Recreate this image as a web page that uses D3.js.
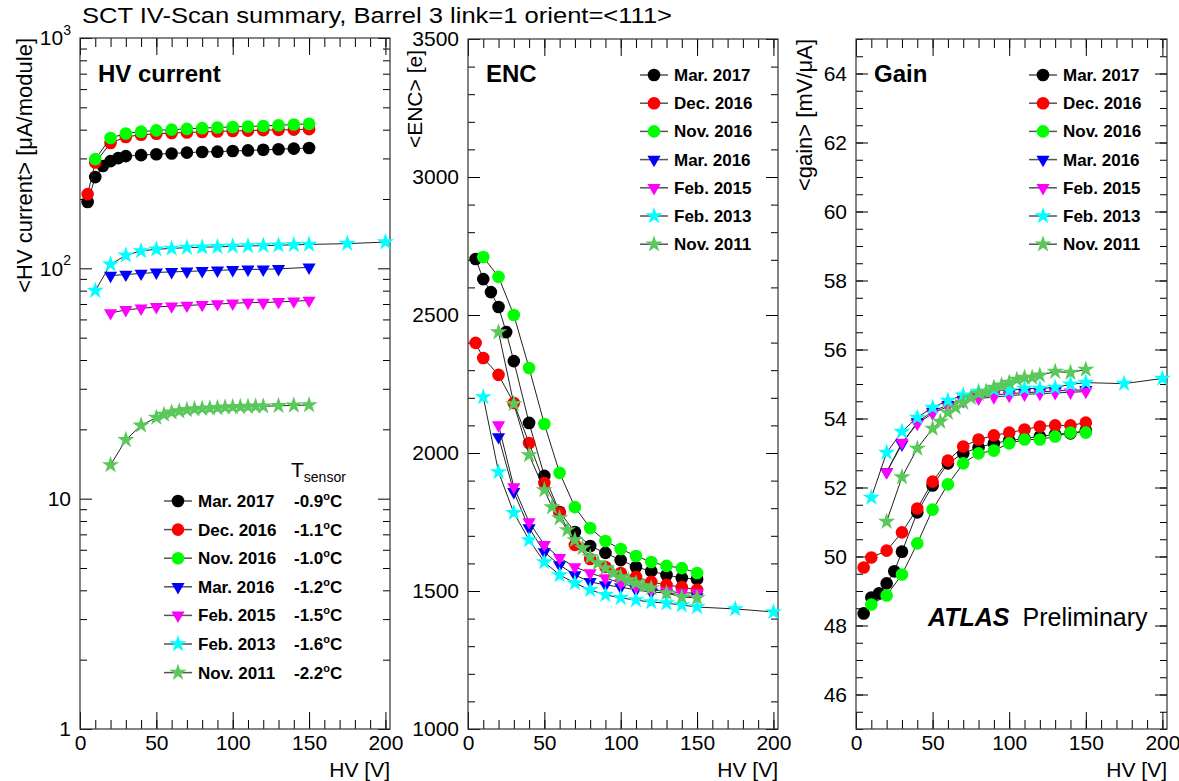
<!DOCTYPE html>
<html>
<head>
<meta charset="utf-8">
<script src="https://cdn.jsdelivr.net/npm/d3@7"></script>
<style>
  body { margin: 0; background: #fff; }
  svg { font-family: "Liberation Sans", Arial, Helvetica, sans-serif; }
  .axis path { display: none; }
  .axis line { stroke: #000; }
</style>
</head>
<body>
<svg id="chart" width="1179" height="781"></svg>
<script>
// ---- series info (legend order) ----
const seriesNames  = ["Mar. 2017", "Dec. 2016", "Nov. 2016", "Mar. 2016", "Feb. 2015", "Feb. 2013", "Nov. 2011"];
const sensorTemps  = ["-0.9", "-1.1", "-1.0", "-1.2", "-1.5", "-1.6", "-2.2"];
const seriesColors = ["#000000", "#ff0000", "#00ff00", "#0000ff", "#ff00ff", "#00ffff", "#5ac85a"];
const seriesShapes = ["circle", "circle", "circle", "triangle", "triangle", "star", "star"];

// ---- HV points [V] for each scan ----
const xMar2017 = [5, 10, 15, 20, 25, 30, 40, 50, 60, 70, 80, 90, 100, 110, 120, 130, 140, 150];
const xDec2016 = [5, 10, 20, 30, 40, 50, 60, 70, 80, 90, 100, 110, 120, 130, 140, 150];
const xNov2016 = [10, 20, 30, 40, 50, 60, 70, 80, 90, 100, 110, 120, 130, 140, 150];
const xMar2016 = [20, 30, 40, 50, 60, 70, 80, 90, 100, 110, 120, 130, 150];
const xFeb2015 = [20, 30, 40, 50, 60, 70, 80, 90, 100, 110, 120, 130, 140, 150];
const xFeb2013 = [10, 20, 30, 40, 50, 60, 70, 80, 90, 100, 110, 120, 130, 140, 150, 175, 200];
const xNov2011 = [20, 30, 40, 50, 55, 60, 65, 70, 75, 80, 85, 90, 95, 100, 105, 110, 115, 120, 130, 140, 150];

// ---- <HV current> [uA/module] ----
const hvMar2017 = [194, 249, 278, 292, 301, 307, 310, 313, 315, 318, 320, 321, 323, 325, 327, 329, 331, 333];
const hvDec2016 = [210, 288, 350, 372, 380, 384, 387, 389, 391, 393, 395, 396, 398, 399, 400, 402];
const hvNov2016 = [298, 368, 385, 392, 397, 400, 403, 406, 409, 411, 413, 415, 418, 421, 424];
const hvMar2016 = [93, 94, 95, 96, 96.5, 97, 97.5, 98, 98.5, 99, 99, 99.5, 101];
const hvFeb2015 = [64, 66, 67, 68, 68.5, 69, 69.5, 70, 70.5, 71, 71, 71.5, 72, 72.5];
const hvFeb2013 = [80, 104, 114, 119, 121, 122, 123, 123.5, 124, 124.5, 125, 125.5, 126, 126.5, 127, 128, 130];
const hvNov2011 = [14, 18, 20.8, 22.5, 23.2, 23.7, 24, 24.3, 24.5, 24.6, 24.7, 24.8, 24.9, 25, 25.05, 25.1, 25.2, 25.2, 25.3, 25.4, 25.5];

// ---- <ENC> [e] ----
const encMar2017 = [2703, 2630, 2583, 2529, 2438, 2333, 2109, 1917, 1786, 1714, 1663, 1638, 1612, 1587, 1572, 1558, 1547, 1543];
const encDec2016 = [2399, 2344, 2283, 2181, 2036, 1891, 1783, 1667, 1616, 1587, 1565, 1551, 1533, 1522, 1514, 1504];
const encNov2016 = [2710, 2638, 2500, 2308, 2105, 1928, 1804, 1728, 1681, 1652, 1627, 1605, 1591, 1583, 1565];
const encMar2016 = [2058, 1859, 1728, 1641, 1594, 1558, 1533, 1522, 1514, 1504, 1496, 1493, 1478];
const encFeb2015 = [2101, 1877, 1750, 1667, 1620, 1587, 1565, 1547, 1529, 1514, 1504, 1500, 1493, 1493];
const encFeb2013 = [2203, 1931, 1783, 1685, 1605, 1558, 1529, 1504, 1486, 1475, 1467, 1460, 1456, 1449, 1442, 1435, 1424];
const encNov2011 = [2438, 2178, 1993, 1866, 1804, 1764, 1721, 1685, 1656, 1623, 1601, 1583, 1565, 1551, 1540, 1529, 1518, 1511, 1493, 1478, 1475];

// ---- <gain> [mV/uA] ----
const gainMar2017 = [48.35, 48.81, 48.93, 49.22, 49.57, 50.14, 51.28, 52.06, 52.70, 52.99, 53.16, 53.28, 53.36, 53.42, 53.48, 53.54, 53.57, 53.65];
const gainDec2016 = [49.68, 49.97, 50.17, 50.70, 51.39, 52.17, 52.78, 53.19, 53.39, 53.51, 53.59, 53.68, 53.77, 53.80, 53.80, 53.88];
const gainNov2016 = [48.61, 48.87, 49.48, 50.38, 51.36, 52.09, 52.70, 52.99, 53.07, 53.28, 53.39, 53.39, 53.48, 53.59, 53.59];
const gainMar2016 = [52.45, 53.25, 53.9, 54.2, 54.4, 54.55, 54.62, 54.68, 54.72, 54.75, 54.77, 54.8, 54.83];
const gainFeb2015 = [52.45, 53.3, 53.85, 54.15, 54.35, 54.5, 54.58, 54.62, 54.66, 54.7, 54.72, 54.74, 54.76, 54.78];
const gainFeb2013 = [51.71, 53.01, 53.62, 54.03, 54.32, 54.52, 54.67, 54.78, 54.84, 54.8, 54.87, 54.87, 54.9, 54.99, 55.04, 55.01, 55.16];
const gainNov2011 = [51.01, 52.3, 53.13, 53.71, 53.91, 54.17, 54.32, 54.46, 54.6, 54.72, 54.78, 54.9, 54.96, 55.04, 55.13, 55.19, 55.19, 55.25, 55.36, 55.33, 55.42];

const xValues = [xMar2017, xDec2016, xNov2016, xMar2016, xFeb2015, xFeb2013, xNov2011];

// ---- axis ticks ----
const xMajor = [0, 50, 100, 150, 200];
const xMinor = d3.range(0, 201, 10);
const hvMajor = [1, 10, 100, 1000];
const hvMinor = [1, 10, 100].flatMap(d => d3.range(2, 10).map(k => k * d));
const encMajor = d3.range(1000, 3501, 500);
const encMinor = d3.range(1000, 3501, 100);
const gainMajor = d3.range(46, 65, 2);
const gainMinor = d3.range(45, 65.01, 0.5);

const svg = d3.select("#chart");
const FONT = "'Liberation Sans', Arial, Helvetica, sans-serif";

svg.append("text")
    .attr("x", 82).attr("y", 23)
    .attr("font-size", 22)
    .attr("textLength", 590).attr("lengthAdjust", "spacingAndGlyphs")
    .text("SCT IV-Scan summary, Barrel 3 link=1 orient=<111>");

const panels = [
    {
        left: 80, right: 390, top: 38, bottom: 729,
        log: true, yDomain: [1, 1000], yMajor: hvMajor, yMinor: hvMinor,
        title: "HV current", ylabel: "<HV current> [μA/module]", ylabelX: 32, ylabelTop: 38, ylabelSize: 22,
        values: [hvMar2017, hvDec2016, hvNov2016, hvMar2016, hvFeb2015, hvFeb2013, hvNov2011]
    },
    {
        left: 468, right: 778, top: 39, bottom: 729,
        log: false, yDomain: [1000, 3500], yMajor: encMajor, yMinor: encMinor,
        title: "ENC", ylabel: "<ENC> [e]", ylabelX: 422, ylabelTop: 50, ylabelSize: 21,
        values: [encMar2017, encDec2016, encNov2016, encMar2016, encFeb2015, encFeb2013, encNov2011]
    },
    {
        left: 856, right: 1167, top: 39, bottom: 729,
        log: false, yDomain: [45, 65], yMajor: gainMajor, yMinor: gainMinor,
        title: "Gain", ylabel: "<gain> [mV/μA]", ylabelX: 812, ylabelTop: 39, ylabelSize: 22,
        values: [gainMar2017, gainDec2016, gainNov2016, gainMar2016, gainFeb2015, gainFeb2013, gainNov2011]
    }
];

function symbolFor(shape) {
    if (shape === "circle") return d3.symbol().type(d3.symbolCircle).size(125)();
    if (shape === "triangle") return d3.symbol().type(d3.symbolTriangle).size(75)();
    return d3.symbol().type(d3.symbolStar).size(92)();
}
function markerTransform(shape, px, py) {
    return shape === "triangle" ? `translate(${px},${py}) rotate(180)` : `translate(${px},${py})`;
}

function styleAxis(sel) {
    sel.attr("font-family", FONT).attr("font-size", 21);
    sel.selectAll("text").attr("fill", "#000");
}

function drawPanel(p) {
    const g = svg.append("g");
    const x = d3.scaleLinear().domain([0, 203]).range([p.left, p.right]);
    const y = (p.log ? d3.scaleLog() : d3.scaleLinear()).domain(p.yDomain).range([p.bottom, p.top]);

    // ticks, ROOT style (inside the frame, on all four sides)
    g.append("g").attr("class", "axis").attr("transform", `translate(0,${p.bottom})`)
        .call(d3.axisBottom(x).tickValues(xMinor).tickSize(-9).tickFormat(""));
    g.append("g").attr("class", "axis").attr("transform", `translate(0,${p.bottom})`)
        .call(d3.axisBottom(x).tickValues(xMajor).tickSize(-17).tickPadding(6).tickFormat(d3.format("d")))
        .call(styleAxis);
    g.append("g").attr("class", "axis").attr("transform", `translate(0,${p.top})`)
        .call(d3.axisTop(x).tickValues(xMinor).tickSize(-9).tickFormat(""));
    g.append("g").attr("class", "axis").attr("transform", `translate(0,${p.top})`)
        .call(d3.axisTop(x).tickValues(xMajor).tickSize(-17).tickFormat(""));

    g.append("g").attr("class", "axis").attr("transform", `translate(${p.left},0)`)
        .call(d3.axisLeft(y).tickValues(p.yMinor).tickSize(-7).tickFormat(""));
    const yAx = g.append("g").attr("class", "axis").attr("transform", `translate(${p.left},0)`)
        .call(d3.axisLeft(y).tickValues(p.yMajor).tickSize(-12).tickPadding(9).tickFormat(d => String(d)))
        .call(styleAxis);
    g.append("g").attr("class", "axis").attr("transform", `translate(${p.right},0)`)
        .call(d3.axisRight(y).tickValues(p.yMinor).tickSize(-7).tickFormat(""));
    g.append("g").attr("class", "axis").attr("transform", `translate(${p.right},0)`)
        .call(d3.axisRight(y).tickValues(p.yMajor).tickSize(-12).tickFormat(""));

    if (p.log) {
        // 10^2, 10^3 with superscripts
        yAx.selectAll(".tick text").each(function (d) {
            if (d >= 100) {
                const t = d3.select(this).text("10");
                t.append("tspan").attr("dy", "-0.75em").attr("font-size", 14).text(Math.round(Math.log10(d)));
            }
        });
    }

    // frame
    g.append("rect")
        .attr("x", p.left).attr("y", p.top)
        .attr("width", p.right - p.left).attr("height", p.bottom - p.top)
        .attr("fill", "none").attr("stroke", "#333").attr("stroke-width", 1.2);

    // axis titles
    g.append("text")
        .attr("transform", `translate(${p.ylabelX},${p.ylabelTop}) rotate(-90)`)
        .attr("text-anchor", "end").attr("font-size", p.ylabelSize)
        .text(p.ylabel);
    g.append("text")
        .attr("x", p.right).attr("y", 777)
        .attr("text-anchor", "end").attr("font-size", 21)
        .text("HV [V]");

    // panel title
    g.append("text")
        .attr("x", p.left + 18).attr("y", 82)
        .attr("font-size", 24).attr("font-weight", "bold")
        .text(p.title);

    // series: line then markers, in legend order
    const line = d3.line().x(d => x(d[0])).y(d => y(d[1]));
    p.values.forEach((vals, i) => {
        const pts = xValues[i].map((xv, j) => [xv, vals[j]]);
        g.append("path").datum(pts)
            .attr("d", line)
            .attr("fill", "none").attr("stroke", "#222").attr("stroke-width", 1);
        g.append("g").selectAll("path").data(pts).join("path")
            .attr("d", symbolFor(seriesShapes[i]))
            .attr("transform", d => markerTransform(seriesShapes[i], x(d[0]), y(d[1])))
            .attr("fill", seriesColors[i]);
    });
    return g;
}

const gs = panels.map(drawPanel);

// ---- legends ----
function drawLegend(g, x0, y0, dy, withTemps) {
    seriesNames.forEach((name, i) => {
        const yy = y0 + i * dy;
        g.append("line")
            .attr("x1", x0 - 14).attr("x2", x0 + 14)
            .attr("y1", yy).attr("y2", yy)
            .attr("stroke", "#555").attr("stroke-width", 1.5);
        g.append("path")
            .attr("d", symbolFor(seriesShapes[i]))
            .attr("transform", markerTransform(seriesShapes[i], x0, yy))
            .attr("fill", seriesColors[i]);
        g.append("text")
            .attr("x", x0 + 20).attr("y", yy + 6)
            .attr("font-size", 17).attr("font-weight", "bold")
            .text(name);
        if (withTemps) {
            const t = g.append("text")
                .attr("x", x0 + 116).attr("y", yy + 6)
                .attr("font-size", 17).attr("font-weight", "bold")
                .text(sensorTemps[i]);
            t.append("tspan").attr("dy", -7).attr("font-size", 11).text("o");
            t.append("tspan").attr("dy", 7).text("C");
        }
    });
}

drawLegend(gs[0], 178, 501, 28.6, true);
const tHead = gs[0].append("text").attr("x", 291).attr("y", 477).attr("font-size", 21).text("T");
tHead.append("tspan").attr("dy", 5).attr("font-size", 14).text("sensor");

drawLegend(gs[1], 654, 75, 28.2, false);
drawLegend(gs[2], 1043, 75, 28.2, false);

// ATLAS label
const atlas = svg.append("text").attr("x", 928).attr("y", 626).attr("font-size", 25);
atlas.append("tspan").attr("font-weight", "bold").attr("font-style", "italic").text("ATLAS");
atlas.append("tspan").attr("dx", 13).text("Preliminary");
</script>
</body>
</html>
